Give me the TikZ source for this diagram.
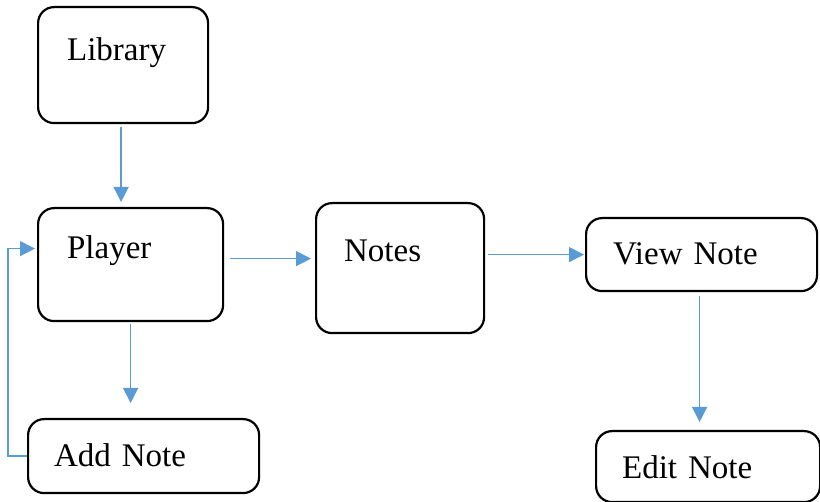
\documentclass[tikz,border=0pt]{standalone}
\usepackage{fontspec}
\setmainfont{Liberation Serif}
\usepackage{tikz}
\usetikzlibrary{arrows.meta, positioning}
\definecolor{flowblue}{RGB}{91,155,213}

\begin{document}
\begin{tikzpicture}[x=1pt, y=-1pt,
    blk/.style={draw=black, line width=2.2pt, rounded corners=16pt, anchor=north west,
      inner ysep=0pt, align=left, font=\fontsize{33}{38}\selectfont},
    flow/.style={draw=flowblue, line width=1.3pt, -{Triangle[length=15pt, width=15pt]}}]
        \useasboundingbox (0,0) rectangle (820,502);

        % Boxes
        \node[blk, inner xsep=29pt, text width=112pt, text height=53pt, text depth=63pt] (lib) at (37,6) {Library};
        \node[blk, inner xsep=29pt, text width=127pt, text height=50pt, text depth=63pt] (player) at (37,207) {Player};
        \node[blk, inner xsep=26pt, text width=179pt, text height=47pt, text depth=27pt] (add) at (27,418) {Add Note};
        \node[blk, inner xsep=28pt, text width=112pt, text height=58pt, text depth=72pt] (notes) at (315,202) {Notes};
        \node[blk, inner xsep=27pt, text width=177pt, text height=46pt, text depth=27pt] (view) at (585,217) {View Note};
        \node[blk, inner xsep=26pt, text width=172pt, text height=47pt, text depth=24pt] (edit) at (595,430) {Edit Note};

        % Arrows
        \draw[flow, shorten <=3pt, shorten >=5pt] ([xshift=-2pt]lib.south) -- ([xshift=-2pt]lib.south |- player.north);
        \draw[flow, shorten <=2pt, shorten >=15pt] (player.south) -- (player.south |- add.north);
        \draw[flow, shorten <=6pt, shorten >=4pt] ([yshift=6pt]player.east) -- ([yshift=6pt]player.east -| notes.west);
        \draw[flow, shorten <=3pt, shorten >=1pt] (notes.east |- view.west) -- (view.west);
        \draw[flow, shorten <=4pt, shorten >=8pt] ([xshift=-2pt]view.south) -- ([xshift=-2pt]view.south |- edit.north);

        % Loop back to player
        \draw[flow, shorten >=2pt] (add.west) -- ++(-19pt,0) |- ([yshift=16pt]player.west);
\end{tikzpicture}
\end{document}
